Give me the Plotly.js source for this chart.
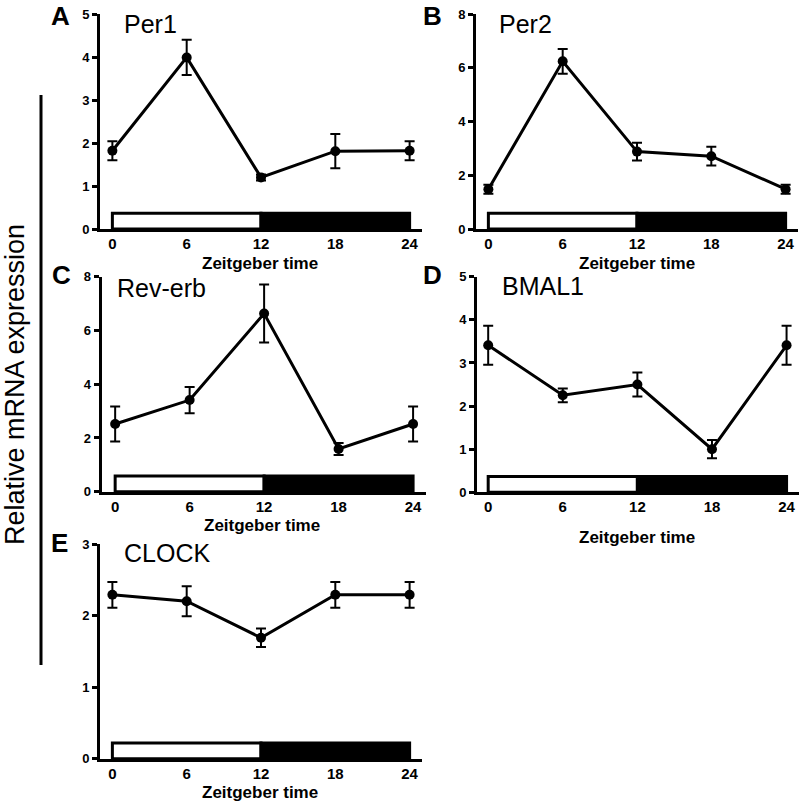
<!DOCTYPE html>
<html>
<head>
<meta charset="utf-8">
<script src="https://cdn.plot.ly/plotly-3.0.1.min.js"></script>
<style>html,body{margin:0;padding:0;background:#fff;}#chart{width:800px;height:802px;}</style>
</head>
<body>
<div id="chart"></div>
<script>
// ---- data ----
const zt = [0, 6, 12, 18, 24];
const ztTicks = [0, 6, 12, 18, 24];
const per1 = [1.82, 3.99, 1.20, 1.81, 1.82];
const per1Err = [0.22, 0.41, 0.07, 0.40, 0.22];
const per2 = [1.48, 6.24, 2.88, 2.71, 1.48];
const per2Err = [0.17, 0.46, 0.33, 0.35, 0.17];
const revErb = [2.52, 3.41, 6.63, 1.59, 2.52];
const revErbErr = [0.65, 0.49, 1.08, 0.22, 0.65];
const bmal1 = [3.41, 2.25, 2.50, 1.00, 3.41];
const bmal1Err = [0.45, 0.16, 0.28, 0.21, 0.45];
const clock = [2.29, 2.20, 1.69, 2.29, 2.29];
const clockErr = [0.18, 0.21, 0.13, 0.18, 0.18];
const lightPhase = [0, 12];
const darkPhase = [12, 24];
const geneNames = ['Per1', 'Per2', 'Rev-erb', 'BMAL1', 'CLOCK'];
const panelLetters = ['A', 'B', 'C', 'D', 'E'];
const xTitle = 'Zeitgeber time';
const yTitle = 'Relative mRNA expression';

const W = 800, H = 802;
const FONT = 'Liberation Sans, Arial, Helvetica, sans-serif';
const px = x => x / W;
const py = y => 1 - y / H;

// panel geometry in pixels: [left, right, top, bottom], x range, y max, dtick
const panels = [
  {vals: per1, err: per1Err, box: [100, 422, 14, 229], xr: [-1, 25], ymax: 5, dt: 1,
   letter: [60, 16], gene: [122, 24], xt: [260, 264]},
  {vals: per2, err: per2Err, box: [476, 798, 14, 229], xr: [-1, 25], ymax: 8, dt: 2,
   letter: [432, 16], gene: [497, 24], xt: [637, 264]},
  {vals: revErb, err: revErbErr, box: [101.5, 425.5, 276.7, 491.7], xr: [-1.1, 25], ymax: 8, dt: 2,
   letter: [61, 275], gene: [115, 287.5], xt: [262, 525]},
  {vals: bmal1, err: bmal1Err, box: [477, 799, 276.7, 492.3], xr: [-0.9, 25], ymax: 5, dt: 1,
   letter: [432, 275], gene: [500, 286], xt: [637, 537]},
  {vals: clock, err: clockErr, box: [100, 422, 544, 758.7], xr: [-1, 25], ymax: 3, dt: 1,
   letter: [59, 543], gene: [122, 552.5], xt: [260, 792]}
];

const data = [];
const layout = {
  width: W, height: H, autosize: false,
  margin: {l: 0, r: 0, t: 0, b: 0, pad: 0},
  paper_bgcolor: '#fff', plot_bgcolor: '#fff',
  showlegend: false,
  font: {family: FONT, color: '#000'},
  shapes: [], annotations: []
};

panels.forEach((p, i) => {
  const n = i === 0 ? '' : String(i + 1);
  const xa = 'xaxis' + n, ya = 'yaxis' + n;
  const xr = 'x' + n, yr = 'y' + n;
  data.push({
    type: 'scatter', mode: 'lines+markers', x: zt, y: p.vals,
    xaxis: xr, yaxis: yr, cliponaxis: false,
    line: {color: '#000', width: 3},
    marker: {color: '#000', size: 10, symbol: 'circle'},
    error_y: {type: 'data', array: p.err, visible: true, color: '#000', thickness: 2, width: 5}
  });
  layout[xa] = {
    domain: [px(p.box[0]), px(p.box[1])], anchor: yr, range: p.xr,
    showgrid: false, zeroline: false, showline: true, linecolor: '#000', linewidth: 3,
    tickmode: 'array', tickvals: ztTicks, ticktext: ztTicks.map(String),
    ticks: '', ticklabelstandoff: -1,
    tickfont: {family: FONT, size: 15, color: '#000', weight: 'bold'}
  };
  layout[ya] = {
    domain: [py(p.box[3]), py(p.box[2])], anchor: xr, range: [0, p.ymax],
    showgrid: false, zeroline: false, showline: true, linecolor: '#000', linewidth: 3,
    tickmode: 'linear', tick0: 0, dtick: p.dt,
    ticks: 'outside', ticklen: 5, tickwidth: 3, tickcolor: '#000',
    tickfont: {family: FONT, size: 13, color: '#000', weight: 'bold'}
  };
  // light/dark bar
  layout.shapes.push({type: 'rect', xref: xr, yref: yr + ' domain', x0: lightPhase[0], x1: lightPhase[1], y0: 0, y1: 0.073,
    fillcolor: '#fff', line: {color: '#000', width: 3}, layer: 'above'});
  layout.shapes.push({type: 'rect', xref: xr, yref: yr + ' domain', x0: darkPhase[0], x1: darkPhase[1], y0: 0, y1: 0.073,
    fillcolor: '#000', line: {color: '#000', width: 3}, layer: 'above'});
  // panel letter
  layout.annotations.push({text: panelLetters[i], xref: 'paper', yref: 'paper',
    x: px(p.letter[0]), y: py(p.letter[1]), xanchor: 'center', yanchor: 'middle', showarrow: false,
    font: {family: FONT, size: 26, color: '#000', weight: 'bold'}});
  // gene name
  layout.annotations.push({text: geneNames[i], xref: 'paper', yref: 'paper',
    x: px(p.gene[0]), y: py(p.gene[1]), xanchor: 'left', yanchor: 'middle', showarrow: false,
    font: {family: FONT, size: 25, color: '#000'}});
  // x title
  layout.annotations.push({text: xTitle, xref: 'paper', yref: 'paper',
    x: px(p.xt[0]), y: py(p.xt[1]), xanchor: 'center', yanchor: 'middle', showarrow: false,
    font: {family: FONT, size: 17, color: '#000', weight: 'bold'}});
});

// shared y title and bracket line
layout.annotations.push({text: yTitle, xref: 'paper', yref: 'paper', x: px(15), y: py(385),
  xanchor: 'center', yanchor: 'middle', textangle: -90, showarrow: false,
  font: {family: FONT, size: 27, color: '#000'}});
layout.shapes.push({type: 'line', xref: 'paper', yref: 'paper', x0: px(41), x1: px(41), y0: py(95), y1: py(665),
  line: {color: '#000', width: 3}});

Plotly.newPlot('chart', data, layout, {displayModeBar: false, staticPlot: true});
</script>
</body>
</html>
